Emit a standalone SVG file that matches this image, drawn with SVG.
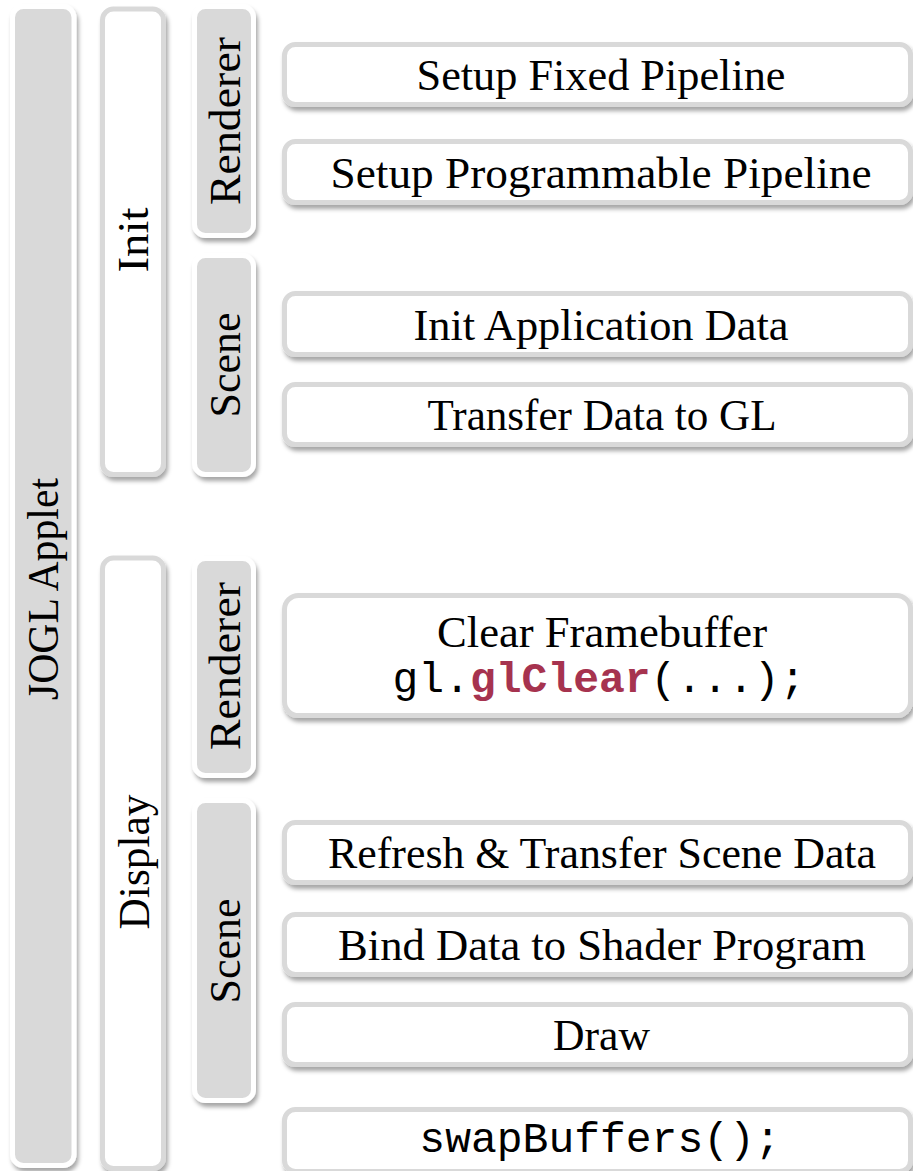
<svg xmlns="http://www.w3.org/2000/svg" width="913" height="1171" viewBox="0 0 913 1171">
<defs>
<filter id="sh" x="-20%" y="-20%" width="140%" height="140%">
<feDropShadow dx="2" dy="4" stdDeviation="2.2" flood-color="#000" flood-opacity="0.35"/>
</filter>
<style>
.g{fill:#d9d9d9;stroke:#ffffff;stroke-width:5;filter:url(#sh)}
.w{fill:#ffffff;stroke:#d9d9d9;stroke-width:5;filter:url(#sh)}
.t{font-family:"Liberation Serif","Times New Roman",serif;font-size:44px;fill:#000;text-anchor:middle}
.m{font-family:"Liberation Mono","Courier New",monospace;font-size:43px;fill:#000;text-anchor:middle}
.hl{fill:#a6334f;font-weight:bold}
</style>
</defs>
<rect width="913" height="1171" fill="#ffffff"/>
<g id="jogl-applet">
<rect class="g" x="12.5" y="6.5" width="61.5" height="1159" rx="11"/>
<text class="t" transform="translate(58,589) rotate(-90)" textLength="222" lengthAdjust="spacingAndGlyphs">JOGL Applet</text>
</g>
<g id="init">
<rect class="w" x="102.5" y="9" width="61" height="465.5" rx="11"/>
<text class="t" transform="translate(148,240) rotate(-90)" textLength="65" lengthAdjust="spacingAndGlyphs">Init</text>
</g>
<g id="display">
<rect class="w" x="102.5" y="558" width="61" height="610.5" rx="11"/>
<text class="t" transform="translate(149,862) rotate(-90)" textLength="135" lengthAdjust="spacingAndGlyphs">Display</text>
</g>
<g id="init-renderer">
<rect class="g" x="194.5" y="6.5" width="59" height="229" rx="11"/>
<text class="t" transform="translate(240,121) rotate(-90)" textLength="168" lengthAdjust="spacingAndGlyphs">Renderer</text>
</g>
<g id="init-scene">
<rect class="g" x="194.5" y="255.5" width="59" height="219" rx="11"/>
<text class="t" transform="translate(240,365) rotate(-90)" textLength="105" lengthAdjust="spacingAndGlyphs">Scene</text>
</g>
<g id="display-renderer">
<rect class="g" x="194.5" y="558.5" width="59" height="217" rx="11"/>
<text class="t" transform="translate(240,666) rotate(-90)" textLength="168" lengthAdjust="spacingAndGlyphs">Renderer</text>
</g>
<g id="display-scene">
<rect class="g" x="194.5" y="800.5" width="59" height="300" rx="11"/>
<text class="t" transform="translate(240,951) rotate(-90)" textLength="105" lengthAdjust="spacingAndGlyphs">Scene</text>
</g>
<g id="setup-fixed">
<rect class="w" x="284.5" y="44.5" width="626" height="60" rx="11"/>
<text class="t" x="601" y="90" textLength="369" lengthAdjust="spacingAndGlyphs">Setup Fixed Pipeline</text>
</g>
<g id="setup-programmable">
<rect class="w" x="284.5" y="141.5" width="626" height="61" rx="11"/>
<text class="t" x="601" y="187.5" textLength="541" lengthAdjust="spacingAndGlyphs">Setup Programmable Pipeline</text>
</g>
<g id="init-app-data">
<rect class="w" x="284.5" y="293.5" width="626" height="61" rx="11"/>
<text class="t" x="601" y="339.5" textLength="375" lengthAdjust="spacingAndGlyphs">Init Application Data</text>
</g>
<g id="transfer-data">
<rect class="w" x="284.5" y="384.5" width="626" height="60" rx="11"/>
<text class="t" x="602" y="430" textLength="349" lengthAdjust="spacingAndGlyphs">Transfer Data to GL</text>
</g>
<g id="clear-framebuffer">
<rect class="w" x="284.5" y="595.5" width="626" height="120" rx="14"/>
<text class="t" x="602" y="647" textLength="330" lengthAdjust="spacingAndGlyphs">Clear Framebuffer</text>
<text class="m" x="599" y="692">gl.<tspan class="hl">glClear</tspan>(...);</text>
</g>
<g id="refresh-transfer">
<rect class="w" x="284.5" y="822.5" width="626" height="60" rx="11"/>
<text class="t" x="602" y="868" textLength="548" lengthAdjust="spacingAndGlyphs">Refresh &amp; Transfer Scene Data</text>
</g>
<g id="bind-data">
<rect class="w" x="284.5" y="914.5" width="626" height="60" rx="11"/>
<text class="t" x="602" y="960" textLength="528" lengthAdjust="spacingAndGlyphs">Bind Data to Shader Program</text>
</g>
<g id="draw">
<rect class="w" x="284.5" y="1004.5" width="626" height="60" rx="11"/>
<text class="t" x="601.5" y="1050" textLength="97" lengthAdjust="spacingAndGlyphs">Draw</text>
</g>
<g id="swap-buffers">
<rect class="w" x="284.5" y="1109.5" width="626" height="62" rx="11"/>
<text class="m" x="600" y="1152">swapBuffers();</text>
</g>
<g id="connectors"></g>
</svg>
